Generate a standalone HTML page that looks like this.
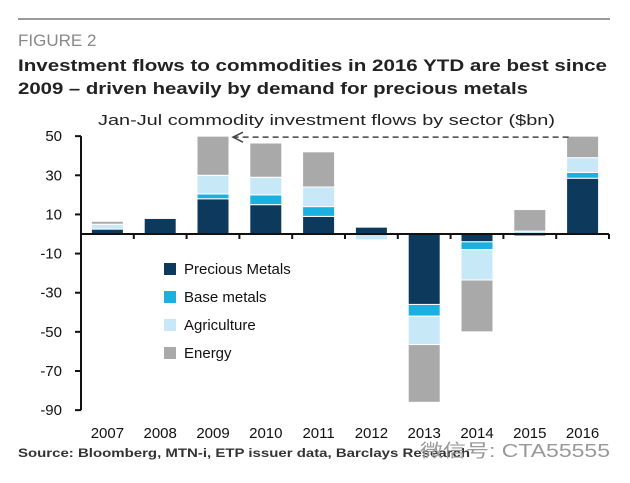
<!DOCTYPE html>
<html><head><meta charset="utf-8"><style>
body{margin:0;background:#fff;}
svg{display:block;font-family:"Liberation Sans","Noto Sans CJK SC",sans-serif;}
</style></head><body>
<svg id="chart" width="630" height="483" viewBox="0 0 630 483">
<line x1="18" y1="19" x2="610" y2="19" stroke="#9a9a9a" stroke-width="2"/>
<text x="18" y="46" font-size="17" fill="#888">FIGURE 2</text>
<text x="18" y="71" font-size="17" font-weight="bold" fill="#222" textLength="589" lengthAdjust="spacingAndGlyphs">Investment flows to commodities in 2016 YTD are best since</text>
<text x="18" y="94" font-size="17" font-weight="bold" fill="#222" textLength="510" lengthAdjust="spacingAndGlyphs">2009 – driven heavily by demand for precious metals</text>
<text x="98" y="125" font-size="15" fill="#222" textLength="457" lengthAdjust="spacingAndGlyphs">Jan-Jul commodity investment flows by sector ($bn)</text>
<g id="plot"></g>
<text x="18" y="457" font-size="12" font-weight="bold" fill="#333" textLength="452" lengthAdjust="spacingAndGlyphs">Source: Bloomberg, MTN-i, ETP issuer data, Barclays Research</text>
<text x="420" y="457" font-size="18" fill="#999" textLength="190" lengthAdjust="spacingAndGlyphs">微信号: CTA55555</text>
</svg>
<script>
const years=["2007","2008","2009","2010","2011","2012","2013","2014","2015","2016"];
const precious=[2.5,8,18,15,9,3.5,-36,-4,-1,28.5];
const base=[0,0,2.5,5,5,0,-6,-4,0,3];
const agri=[2.5,0.5,9.5,9,10,-3,-14.5,-15.5,1.5,7.5];
const energy=[1.5,0,20,17.5,18,0,-29.5,-26.5,11,11];
const yTicks=[50,30,10,-10,-30,-50,-70,-90];
const seriesNames=["Precious Metals","Base metals","Agriculture","Energy"];
const colors=["#0d3a5c","#1ab0e0","#c6e8f7","#a9a9a9"];

const NS="http://www.w3.org/2000/svg";
const g=document.getElementById('plot');
const y0=234,ppu=1.957,x0=81,slot=52.8,bw=32;
function Y(v){return y0-v*ppu;}
function X(i){return x0+slot*i+slot/2;}
function mk(t,a,p){const e=document.createElementNS(NS,t);for(const k in a)e.setAttribute(k,a[k]);(p||g).appendChild(e);return e;}

let ax=mk('line',{x1:x0,y1:Y(50),x2:x0,y2:Y(-90),stroke:'#111','stroke-width':2});


yTicks.forEach(v=>{
  const t=mk('line',{x1:x0-6,y1:Y(v),x2:x0,y2:Y(v),stroke:'#111','stroke-width':2});
  
  
  const l=mk('text',{x:62,y:Y(v)+5,'font-size':15,'text-anchor':'end',fill:'#111'});
  l.textContent=v;
  
  
});
const allS=[precious,base,agri,energy];
years.forEach((yr,i)=>{
  let pos=0,neg=0;
  allS.forEach((s,k)=>{
    const v=s[i];if(!v)return;
    let a,b;
    if(v>0){a=pos;b=pos+v;pos=b;}else{a=neg;b=neg+v;neg=b;}
    const top=Y(Math.max(a,b)),h=Math.abs(b-a)*ppu;
    const r=mk('rect',{x:X(i)-bw/2,y:top,width:bw,height:h,fill:colors[k],stroke:'#fff','stroke-width':1});
    
    
  });
  const l=mk('text',{x:X(i),y:438,'font-size':15,'text-anchor':'middle',fill:'#111'});
  l.textContent=yr;
  
  
});
let xa=mk('line',{x1:x0,y1:y0,x2:x0+slot*10,y2:y0,stroke:'#111','stroke-width':2});


for(let i=1;i<=10;i++){
  const t=mk('line',{x1:x0+slot*i,y1:y0,x2:x0+slot*i,y2:y0+5,stroke:'#111','stroke-width':2});
  
  
}
const ay=Y(50)+1;
let da=mk('path',{d:`M${X(9)-14},${ay} L${X(2)+20},${ay}`,stroke:'#444','stroke-width':1.5,'stroke-dasharray':'6,4',fill:'none'});


let ah=mk('path',{d:`M${X(2)+30},${ay-5} L${X(2)+20},${ay} L${X(2)+30},${ay+5}`,stroke:'#444','stroke-width':1.5,fill:'none'});


seriesNames.forEach((n,k)=>{
  const yy=269+k*28;
  const s=mk('rect',{x:164,y:yy-6,width:12,height:12,fill:colors[k]});
  
  
  const t=mk('text',{x:184,y:yy+5,'font-size':15,fill:'#111'});
  t.textContent=n;
  
  
});
</script>
</body></html>
